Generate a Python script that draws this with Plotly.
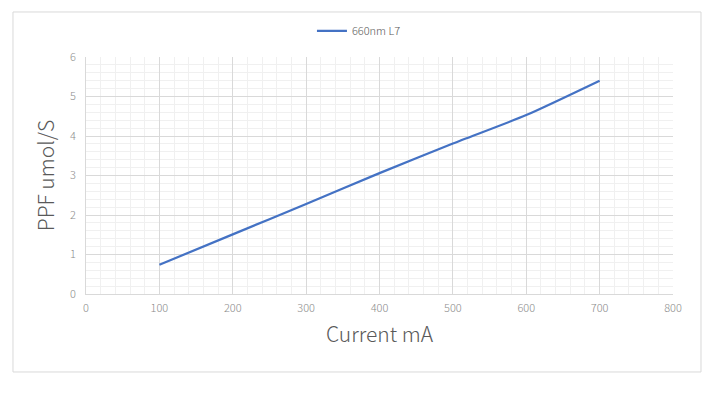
import plotly.graph_objects as go

current_ma = [100, 200, 300, 400, 500, 600, 700]
ppf = [0.74, 1.51, 2.28, 3.06, 3.81, 4.53, 5.40]
series_name = "660nm L7"
x_ticks = [0, 100, 200, 300, 400, 500, 600, 700, 800]
y_ticks = [0, 1, 2, 3, 4, 5, 6]

FONT = "Noto Sans CJK SC"

fig = go.Figure()
fig.add_trace(go.Scatter(
    x=current_ma, y=ppf, mode="lines", name=series_name,
    line=dict(color="#4472C4", width=2.2, shape="spline", smoothing=0.6),
))

axis_common = dict(
    showgrid=True, gridcolor="#d9d9d9", gridwidth=1,
    zeroline=False, showline=True, linecolor="#d9d9d9", linewidth=1,
    ticks="", tickfont=dict(family=FONT, size=11, color="#8c8c8c", weight=300),
    minor=dict(showgrid=True, gridcolor="#f0f0f0", gridwidth=1),
    title_font=dict(family=FONT, size=21, color="#595959", weight=300),
    automargin=False,
)

fig.update_xaxes(range=[0, 800], tickvals=x_ticks, minor_dtick=20,
                 title_text="Current mA", title_standoff=13,
                 ticklabelstandoff=4, **axis_common)
fig.update_yaxes(range=[0, 6], tickvals=y_ticks, minor_dtick=0.2,
                 title_text="PPF umol/S", title_standoff=9,
                 ticklabelstandoff=7, **axis_common)

fig.add_shape(type="rect", xref="paper", yref="paper",
              x0=-0.1244, x1=1.0477, y0=-0.329, y1=1.19,
              line=dict(color="#d9d9d9", width=1), layer="below")

fig.update_layout(
    width=720, height=394,
    margin=dict(l=78, r=55, t=49, b=108, autoexpand=False),
    paper_bgcolor="white", plot_bgcolor="white",
    showlegend=True,
    legend=dict(orientation="h", x=0.465, xanchor="center", y=1.11, yanchor="middle",
                font=dict(family=FONT, size=11, color="#595959", weight=300),
                bgcolor="rgba(0,0,0,0)"),
)

fig.write_html("out.html")
